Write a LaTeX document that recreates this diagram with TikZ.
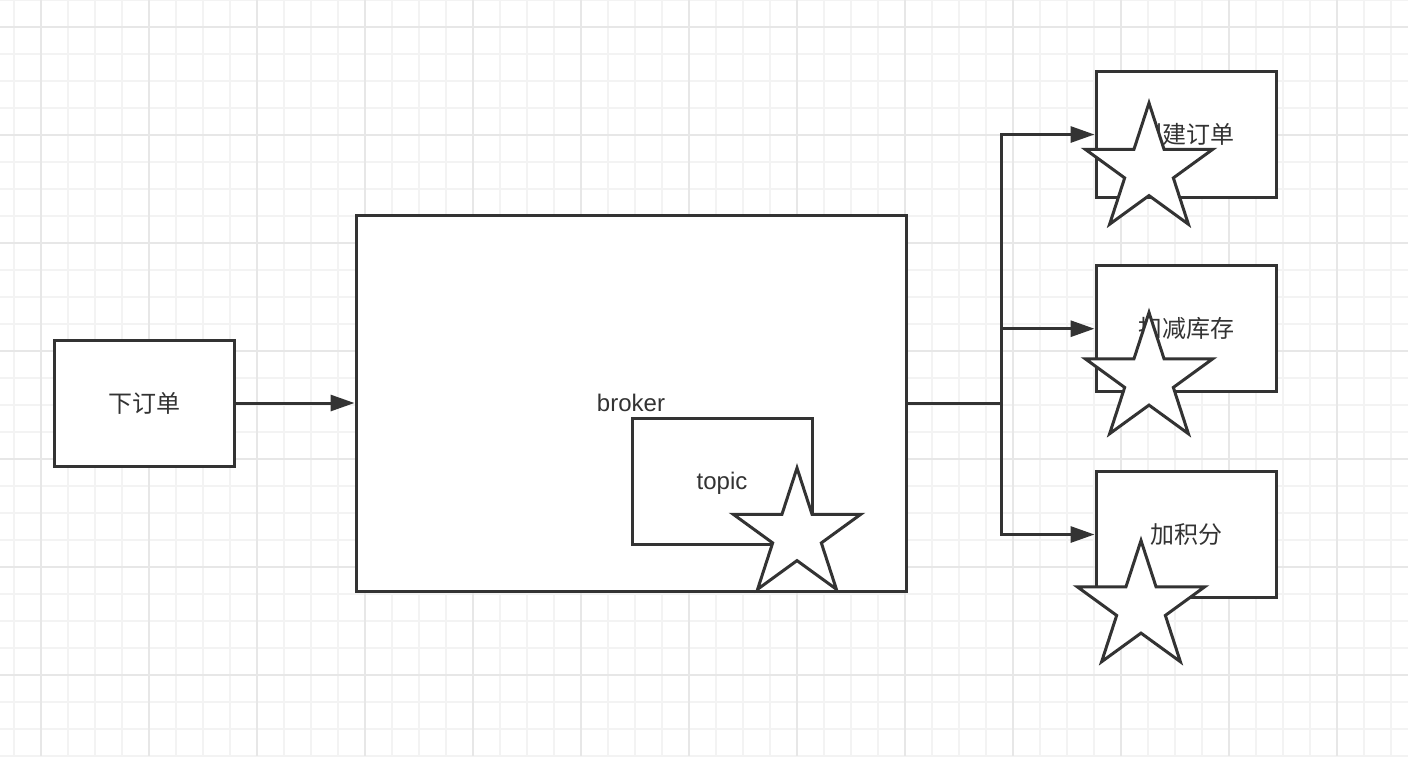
\documentclass[tikz,border=0pt]{standalone}
\usepackage{fontspec}
\setmainfont{Liberation Sans}
\newfontfamily\cjk{Noto Sans CJK SC}
\usetikzlibrary{arrows.meta,shapes.geometric}
\definecolor{ink}{HTML}{333333}
\definecolor{gridminor}{HTML}{F3F3F3}
\definecolor{gridmajor}{HTML}{E7E7E7}
\begin{document}
\begin{tikzpicture}[x=0.5pt,y=-0.5pt,
  box/.style={draw=ink, line width=1.5pt, fill=white, minimum width=90pt, minimum height=63pt,
    inner sep=0pt, text=ink, font=\fontsize{12}{14}\selectfont},
  bigstar/.style={star, star points=5, star point ratio=2.618, minimum size=67pt, inner sep=0pt,
    draw=ink, line width=1.5pt, fill=white},
  arr/.style={draw=ink, line width=1.5pt, -{Triangle[length=12pt,width=8pt]}},
  minorline/.style={draw=gridminor, line width=0.8pt},
  majorline/.style={draw=gridmajor, line width=1pt}]
\useasboundingbox (0,0) rectangle (1408,756);
\fill[white] (0,0) rectangle (1408,756);
% grid
\foreach \x in {14,41,...,1408} \draw[minorline] (\x,0) -- (\x,756);
\foreach \y in {0,27,...,756} \draw[minorline] (0,\y) -- (1408,\y);
\foreach \x in {41,149,...,1408} \draw[majorline] (\x,0) -- (\x,756);
\foreach \y in {27,135,...,756} \draw[majorline] (0,\y) -- (1408,\y);
% boxes
\node[box] (a) at (144,403) {\cjk 下订单};
\node[box, minimum width=275pt, minimum height=188pt] (b) at (631,403) {broker};
\node[box, text depth=0pt] (t) at (722,481) {topic};
\node[box] (c1) at (1186,134.5) {\cjk 创建订单};
\node[box] (c2) at (1186,328.7) {\cjk 扣减库存};
\node[box] (c3) at (1186,534.5) {\cjk 加积分};
% connectors
\coordinate (j) at (1001,403);
\draw[arr] (a) -- (b);
\draw[arr] (b.east) -- (j) |- (c1.west);
\draw[arr] (b.east) -- (j) |- (c2.west);
\draw[arr] (b.east) -- (j) |- (c3.west);
% stars
\node[bigstar] (s0) at (797,535) {};
\node[bigstar] (s1) at (1149,170) {};
\node[bigstar] (s2) at (1149,379.5) {};
\node[bigstar] (s3) at (1141,607.5) {};
\end{tikzpicture}
\end{document}
